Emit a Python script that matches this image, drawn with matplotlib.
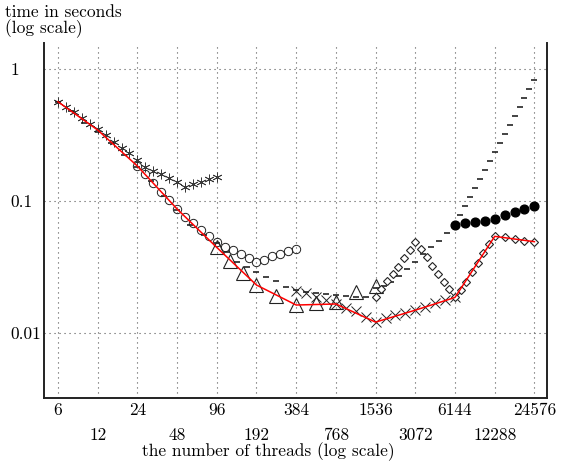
import numpy as np
import matplotlib
matplotlib.use("Agg")
import matplotlib.pyplot as plt
from matplotlib.ticker import FixedLocator, FixedFormatter, NullLocator

plt.rcParams['font.family'] = ['cmr10', 'DejaVu Serif']
plt.rcParams['axes.unicode_minus'] = False
plt.rcParams['axes.formatter.use_mathtext'] = True

# ---- thread counts on the axis (six times powers of two) ----
tick_threads = [6, 12, 24, 48, 96, 192, 384, 768, 1536, 3072, 6144, 12288, 24576]
tick_labels = ["6", "12", "24", "48", "96", "192", "384", "768",
               "1536", "3072", "6144", "12288", "24576"]
y_ticks = [0.01, 0.1, 1]
y_tick_labels = ["0.01", "0.1", "1"]

# ---- measured run times (seconds) ----
star_threads = np.geomspace(6, 96, 21)
star_times = [0.565, 0.518, 0.470, 0.423, 0.383, 0.349, 0.316, 0.281, 0.251, 0.230,
              0.205, 0.180, 0.170, 0.159, 0.149, 0.140, 0.128, 0.135, 0.140, 0.147, 0.153]

dash_threads = np.concatenate([np.geomspace(6, 96, 13),
                               np.geomspace(96, 1536, 17)[1:],
                               np.geomspace(1536, 6144, 11)[1:],
                               np.geomspace(6144, 24576, 17)[1:]])
dash_times = [0.562, 0.477, 0.393, 0.333, 0.275, 0.223, 0.181, 0.142, 0.109, 0.0855,
              0.0658, 0.0552, 0.0481,
              0.0411, 0.0345, 0.0316, 0.0292, 0.0268, 0.0248, 0.0225, 0.0212, 0.0205,
              0.0200, 0.0197, 0.0194, 0.0191, 0.0188, 0.0186, 0.0219,
              0.0226, 0.0243, 0.0270, 0.0308, 0.0345, 0.0400, 0.0449, 0.0502, 0.0573, 0.0658,
              0.0783, 0.0917, 0.107, 0.125, 0.147, 0.172, 0.201, 0.235, 0.275, 0.322,
              0.377, 0.441, 0.515, 0.603, 0.705, 0.832]

circle_threads = np.geomspace(24, 384, 21)
circle_times = [0.184, 0.159, 0.137, 0.118, 0.101, 0.0869, 0.0763, 0.0681, 0.0603, 0.0543,
                0.0493, 0.0452, 0.0422, 0.0395, 0.0368, 0.0347, 0.0360, 0.0380, 0.0400,
                0.0418, 0.0433]

tri_threads = np.concatenate([np.geomspace(96, 192, 4), np.geomspace(192, 1536, 7)[1:]])
tri_times = [0.0445, 0.0354, 0.0283, 0.0231, 0.0192, 0.0163, 0.0170, 0.0173, 0.0203, 0.0229]

cross_threads = np.geomspace(384, 6144, 17)
cross_times = [0.0208, 0.0200, 0.0189, 0.0178, 0.0166, 0.0156, 0.0146, 0.0133, 0.0121,
               0.0131, 0.0137, 0.0143, 0.0149, 0.0158, 0.0168, 0.0178, 0.0186]

diamond_threads = np.concatenate([np.geomspace(1536, 12288, 22),
                                  np.geomspace(12288, 24576, 5)[1:]])
diamond_times = [0.0186, 0.0216, 0.0248, 0.0279, 0.0316, 0.0372, 0.0429, 0.0492,
                 0.0435, 0.0375, 0.0322, 0.0280, 0.0245, 0.0214, 0.0188,
                 0.0212, 0.0245, 0.0291, 0.0341, 0.0402, 0.0472, 0.0540,
                 0.0531, 0.0513, 0.0500, 0.0492]

dot_threads = np.geomspace(6144, 24576, 9)
dot_times = [0.0658, 0.0678, 0.0693, 0.0709, 0.0734, 0.0780, 0.0821, 0.0869, 0.0921]

best_times = [0.565, 0.345, 0.184, 0.087, 0.0445, 0.0231, 0.0163, 0.0166, 0.0121,
              0.0149, 0.0186, 0.0540, 0.0492]

# ---- figure ----
fig = plt.figure(figsize=(5.67, 4.62), dpi=100)
W, H = 567, 462
ax = fig.add_axes([44 / W, 1 - 398 / H, (547 - 44) / W, (398 - 43) / H])
ax.set_xscale('log')
ax.set_yscale('log')
ax.set_xlim(4.70, 30620)
ax.set_ylim(0.00322, 1.574)

ax.plot(star_threads, star_times, ls='none', marker=(6, 2, 0), ms=7, mew=0.6,
        color='#3a3a3a', zorder=3)
ax.plot(dash_threads, dash_times, ls='none', marker='_', ms=3.8, mew=1.1,
        color='#111111', zorder=3)
ax.plot(circle_threads, circle_times, ls='none', marker='o', ms=6, mew=0.7,
        mfc='none', mec='#222222', zorder=3)
ax.plot(tri_threads, tri_times, ls='none', marker='^', ms=10, mew=0.8,
        mfc='none', mec='#222222', zorder=3)
ax.plot(cross_threads, cross_times, ls='none', marker='x', ms=7, mew=0.7,
        color='#222222', zorder=3)
ax.plot(diamond_threads, diamond_times, ls='none', marker='D', ms=4.3, mew=0.8,
        mfc='white', mec='#222222', zorder=3)
ax.plot(dot_threads, dot_times, ls='none', marker='o', ms=6.3, color='black', zorder=3)
ax.plot(tick_threads, best_times, color='red', lw=1.1, zorder=4)

# ---- axes styling ----
for side in ('left', 'bottom', 'right'):
    ax.spines[side].set_linewidth(1.4)
    ax.spines[side].set_color('#222222')
ax.spines['top'].set_visible(False)

ax.xaxis.set_major_locator(FixedLocator(tick_threads[0::2]))
ax.xaxis.set_major_formatter(FixedFormatter(tick_labels[0::2]))
ax.xaxis.set_minor_locator(FixedLocator(tick_threads[1::2]))
ax.xaxis.set_minor_formatter(FixedFormatter(tick_labels[1::2]))
ax.yaxis.set_major_locator(FixedLocator(y_ticks))
ax.yaxis.set_major_formatter(FixedFormatter(y_tick_labels))
ax.yaxis.set_minor_locator(NullLocator())

fs = 12.5
ax.tick_params(axis='x', which='major', length=0, pad=3.5, labelsize=fs, colors='black')
ax.tick_params(axis='x', which='minor', length=0, pad=21.5, labelsize=fs, colors='black')
ax.tick_params(axis='y', which='major', length=0, pad=24.0, labelsize=fs, colors='black')
for lab in ax.get_yticklabels():
    lab.set_horizontalalignment('left')

grid_style = dict(color='#555555', linestyle=(0, (1, 3.5)), linewidth=0.8)
ax.grid(True, axis='x', which='both', **grid_style)
ax.grid(True, axis='y', which='major', **grid_style)

fig.text(5 / W, 1 - 17 / H, "time in seconds", ha='left', va='baseline', fontsize=fs)
fig.text(5 / W, 1 - 33 / H, "(log scale)", ha='left', va='baseline', fontsize=fs)
fig.text(268 / W, 1 - 456.5 / H, "the number of threads (log scale)",
         ha='center', va='baseline', fontsize=fs)

fig.savefig('out.png', dpi=100)
